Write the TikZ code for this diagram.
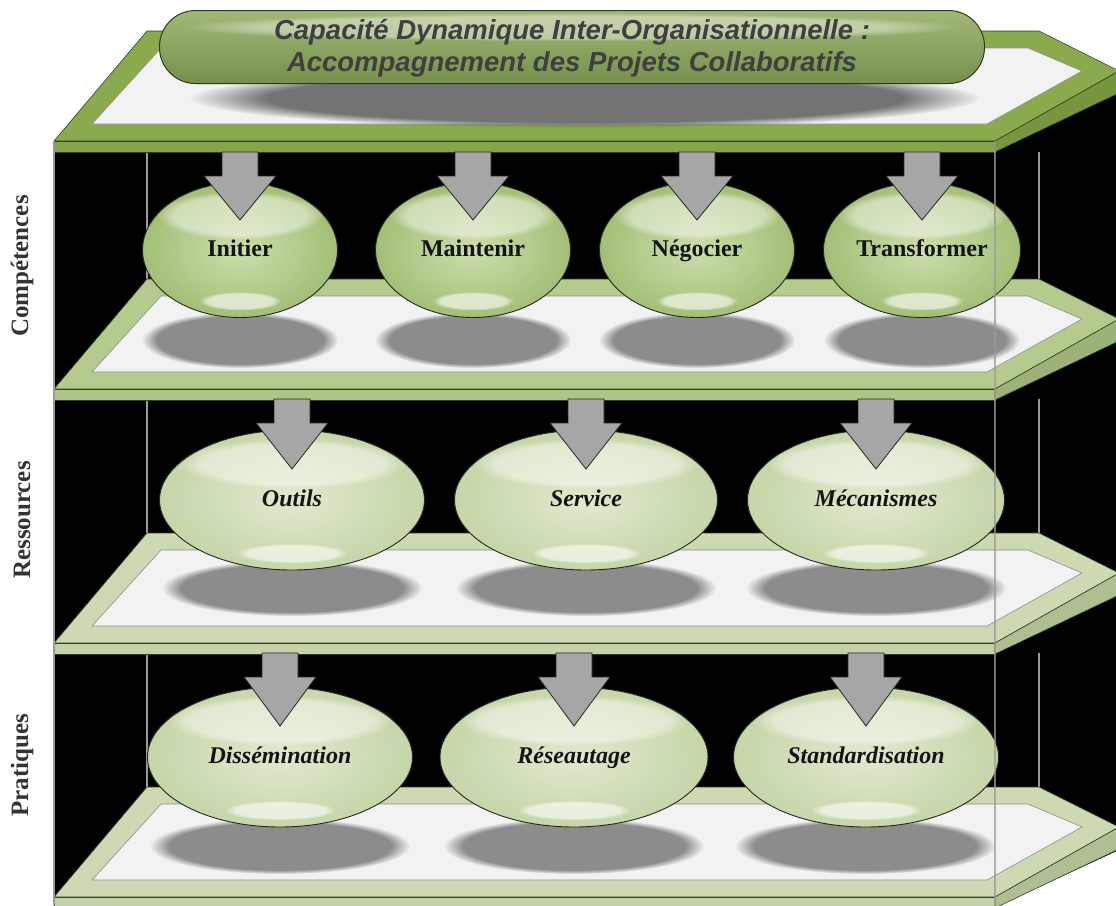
\documentclass[tikz,border=0pt]{standalone}
\usepackage{fontspec}
\setmainfont{Liberation Serif}
\newfontfamily\titlefont{Liberation Sans}
\usepackage{tikz}
\usetikzlibrary{shapes.geometric,fadings,calc}
\definecolor{TopFace}{HTML}{8BAA4E}
\definecolor{TopStrip}{HTML}{86A44A}
\definecolor{TopSide}{HTML}{789640}
\definecolor{ShelfA}{HTML}{B5CB8D}
\definecolor{ShelfAStrip}{HTML}{AFC487}
\definecolor{ShelfASide}{HTML}{9DB278}
\definecolor{ShelfB}{HTML}{CCD9B3}
\definecolor{ShelfBStrip}{HTML}{C4D2AA}
\definecolor{ShelfBSide}{HTML}{AEBF92}
\definecolor{ShelfEdge}{HTML}{33401F}
\definecolor{Panel}{HTML}{F2F2F2}
\definecolor{PanelLine}{HTML}{8C8C8C}
\definecolor{Post}{HTML}{9A9A9A}
\definecolor{BubbleInner}{HTML}{CCDEAD}
\definecolor{BubbleOuter}{HTML}{A3BF76}
\definecolor{PaleInner}{HTML}{E0E9CF}
\definecolor{PaleOuter}{HTML}{C5D6A8}
\definecolor{ArrowGrey}{HTML}{A6A6A6}
\definecolor{PillTop}{HTML}{A2B878}
\definecolor{PillBottom}{HTML}{76904B}
\definecolor{PillEdge}{HTML}{2C3A18}
\definecolor{TitleInk}{HTML}{3F3F3F}

\begin{document}
\begin{tikzpicture}[x=1pt,y=-1pt,
  bubble/.style={ellipse,draw=black!85,line width=0.9pt,shade,inner color=BubbleInner,outer color=BubbleOuter,inner sep=0pt,text height=16pt,text depth=4pt,text=black!92,font=\fontsize{24}{28}\selectfont\bfseries},
  palebubble/.style={bubble,inner color=PaleInner,outer color=PaleOuter,font=\fontsize{24}{28}\selectfont\bfseries\itshape},
  sidelabel/.style={rotate=90,text=black!80,font=\fontsize{25}{30}\selectfont\bfseries},
  post/.style={draw=Post,line width=2.4pt},
  shelfline/.style={draw=ShelfEdge,line width=0.6pt}]
\useasboundingbox (0,0) rectangle (1116,905);
% black box behind the shelves
\fill[black] (54,141) -- (995,141) -- (1119,71) -- (1119,850) -- (995,907) -- (54,907) -- cycle;
\foreach \ya/\yz in {152/279,399/533,653/787} {
  \draw[post] (147,\ya) -- (147,\yz);
  \draw[post] (1039,\ya) -- (1039,\yz);
}
% shelves
\foreach \yb/\face/\strip/\side in {31/TopFace/TopStrip/TopSide,279/ShelfA/ShelfAStrip/ShelfASide,533/ShelfB/ShelfBStrip/ShelfBSide,787/ShelfB/ShelfBStrip/ShelfBSide} {
  \draw[shelfline,fill=\face] (54,\yb+110) -- (147,\yb) -- (1039,\yb) -- (1119,\yb+40) -- (995,\yb+110) -- cycle;
  \draw[shelfline,fill=\strip] (54,\yb+110) rectangle (995,\yb+121);
  \draw[shelfline,fill=\side] (995,\yb+110) -- (1119,\yb+40) -- (1119,\yb+62) -- (995,\yb+121) -- cycle;
  \draw[draw=PanelLine,line width=0.6pt,fill=Panel] (92,\yb+93) -- (161,\yb+17) -- (1028,\yb+17) -- (1082,\yb+40) -- (987,\yb+93) -- cycle;
}
\draw[post] (54,141) -- (54,905);
% shadows
\fill[black!55,path fading=circle with fuzzy edge 20 percent] (585,98) ellipse [x radius=395,y radius=30];
\foreach \x/\y/\rx in {240/340/98,473/340/98,697/340/98,922/340/98,292/588/130,586/588/130,876/588/130,280/846/130,574/846/130,865/846/130}
  \fill[black!45,path fading=circle with fuzzy edge 15 percent] (\x,\y) ellipse [x radius=\rx,y radius=28];
% title
\node[rectangle,rounded corners=36pt,minimum width=825pt,minimum height=73pt,shade,top color=PillTop,bottom color=PillBottom,draw=PillEdge,line width=1pt] (title) at (572,47) {};
\fill[white,opacity=0.4,path fading=circle with fuzzy edge 20 percent] ($(title.center)+(0,-20)$) ellipse [x radius=390,y radius=14];
\node[align=center,text=TitleInk,font=\titlefont\bfseries\itshape\fontsize{27.5}{32}\selectfont] (titletext) at ($(title.center)+(0,1)$) {Capacité Dynamique Inter-Organisationnelle :\\Accompagnement des Projets Collaboratifs};
% bubbles
\node[bubble,minimum width=195pt,minimum height=135pt] (initier) at (240,250) {Initier};
\node[bubble,minimum width=195pt,minimum height=135pt] (maintenir) at (473,250) {Maintenir};
\node[bubble,minimum width=195pt,minimum height=135pt] (negocier) at (697,250) {Négocier};
\node[bubble,minimum width=197pt,minimum height=135pt] (transformer) at (922,250) {Transformer};
\node[palebubble,minimum width=265pt,minimum height=140pt] (outils) at (292,500) {Outils};
\node[palebubble,minimum width=263pt,minimum height=140pt] (service) at (586,500) {Service};
\node[palebubble,minimum width=257pt,minimum height=140pt] (mecanismes) at (876,500) {Mécanismes};
\node[palebubble,minimum width=265pt,minimum height=140pt] (dissemination) at (280,757) {Dissémination};
\node[palebubble,minimum width=268pt,minimum height=140pt] (reseautage) at (574,757) {Réseautage};
\node[palebubble,minimum width=265pt,minimum height=140pt] (standardisation) at (866,757) {Standardisation};
% gloss on the bubbles
\foreach \n/\rx/\ry in {initier/97/67,maintenir/97/67,negocier/97/67,transformer/98/67,outils/132/70,service/131/70,mecanismes/128/70,dissemination/132/70,reseautage/134/70,standardisation/132/70} {
  \fill[white,opacity=0.45,path fading=circle with fuzzy edge 20 percent] ($(\n.center)+(0,-0.52*\ry)$) ellipse [x radius=0.86*\rx,y radius=0.36*\ry];
  \fill[white,opacity=0.6,path fading=circle with fuzzy edge 20 percent] ($(\n.center)+(0,0.76*\ry)$) ellipse [x radius=0.42*\rx,y radius=0.14*\ry];
}
% arrows
\foreach \x/\yt/\len in {240/152/68,473/152/68,697/152/68,922/152/68,292/399/70,586/399/70,876/399/70,280/653/73,574/653/73,866/653/73}
  \draw[fill=ArrowGrey,draw=black!85,line width=0.8pt,line join=miter] (\x-18,\yt) -- (\x+18,\yt) -- (\x+18,\yt+24) -- (\x+36,\yt+24) -- (\x,\yt+\len) -- (\x-36,\yt+24) -- (\x-18,\yt+24) -- cycle;
\draw[draw=Post,line width=2pt,opacity=0.75] (995,141) -- (995,905);
% side labels
\node[sidelabel] (competences) at (22,266) {Compétences};
\node[sidelabel] (ressources) at (22,520) {Ressources};
\node[sidelabel] (pratiques) at (22,765) {Pratiques};
\end{tikzpicture}
\end{document}
